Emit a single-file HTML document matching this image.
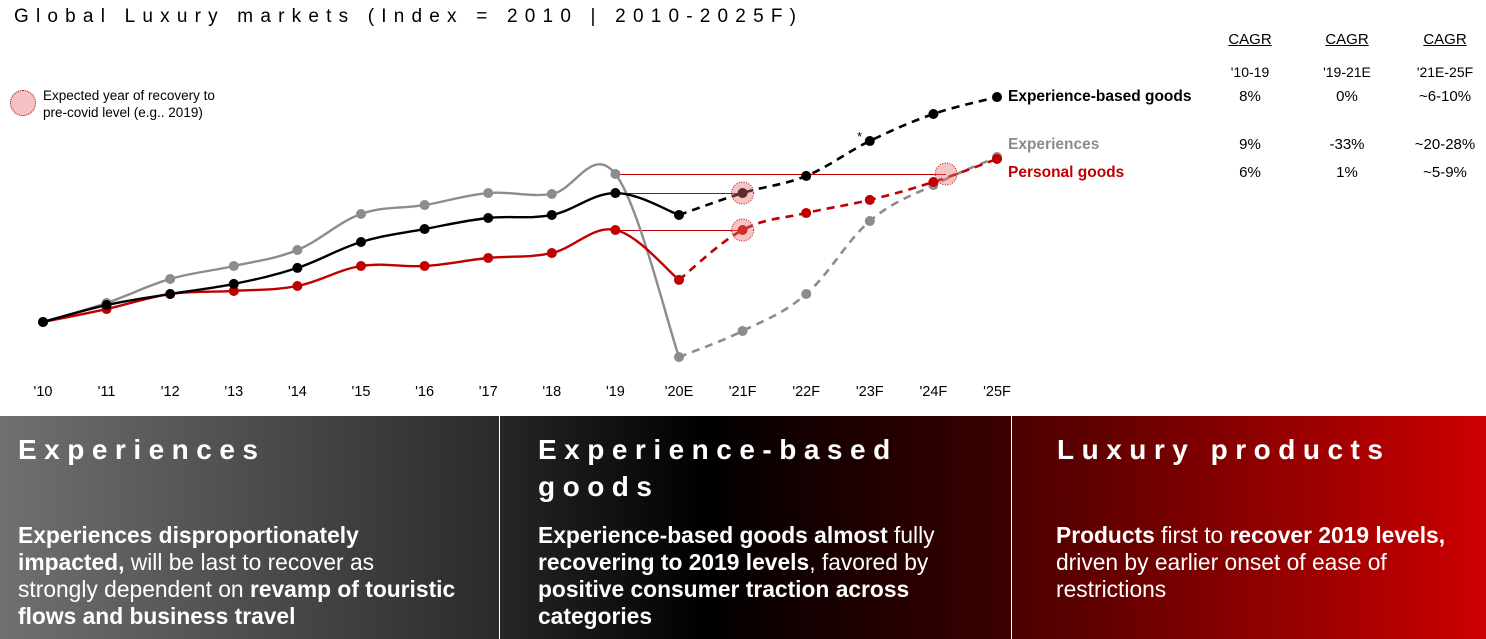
<!DOCTYPE html>
<html><head><meta charset="utf-8">
<style>
body{margin:0;width:1486px;height:639px;overflow:hidden;background:#fff;font-family:"Liberation Sans",Arial,sans-serif;position:relative}
.abs{position:absolute}
.title{left:14px;top:6px;font-size:19px;letter-spacing:7.2px;color:#000}
.th{font-size:15px;text-decoration:underline;text-align:center;width:70px}
.tp{font-size:14px;text-align:center;width:70px}
.tv{font-size:15px;text-align:center;width:90px}
.panel{top:416px;height:223px;color:#fff}
.ph{font-size:28px;font-weight:bold;letter-spacing:7.5px;line-height:37px;position:absolute;left:18px;top:15px}
.pt{font-size:22.8px;line-height:27px;position:absolute;left:18px;top:106px;white-space:nowrap}
</style></head><body>
<div class="abs title">Global Luxury markets (Index = 2010 | 2010-2025F)</div>

<div class="abs th" style="left:1215px;top:31px">CAGR</div>
<div class="abs th" style="left:1312px;top:31px">CAGR</div>
<div class="abs th" style="left:1410px;top:31px">CAGR</div>
<div class="abs tp" style="left:1215px;top:64px">'10-19</div>
<div class="abs tp" style="left:1312px;top:64px">'19-21E</div>
<div class="abs tp" style="left:1410px;top:64px">'21E-25F</div>

<div class="abs" style="left:1008px;top:88px;font-size:15.5px;font-weight:bold">Experience-based goods</div>
<div class="abs" style="left:1008px;top:136px;font-size:15.5px;font-weight:bold;color:#8c8c8c">Experiences</div>
<div class="abs" style="left:1008px;top:164px;font-size:15.5px;font-weight:bold;color:#c00000">Personal goods</div>

<div class="abs tv" style="left:1205px;top:88px">8%</div>
<div class="abs tv" style="left:1302px;top:88px">0%</div>
<div class="abs tv" style="left:1400px;top:88px">~6-10%</div>
<div class="abs tv" style="left:1205px;top:136px">9%</div>
<div class="abs tv" style="left:1302px;top:136px">-33%</div>
<div class="abs tv" style="left:1400px;top:136px">~20-28%</div>
<div class="abs tv" style="left:1205px;top:164px">6%</div>
<div class="abs tv" style="left:1302px;top:164px">1%</div>
<div class="abs tv" style="left:1400px;top:164px">~5-9%</div>

<div class="abs" style="left:10px;top:90px;width:26px;height:26px;border-radius:50%;background:rgba(230,120,120,0.45);border:1px dotted #c00000;box-sizing:border-box"></div>
<div class="abs" style="left:43px;top:87px;font-size:13.5px;line-height:17px">Expected year of recovery to<br>pre-covid level (e.g.. 2019)</div>

<svg id="chart" class="abs" style="left:0;top:0" width="1486" height="416"></svg>

<div class="abs panel" style="left:0;width:499px;background:linear-gradient(90deg,#707070,#2a2a2a)">
<div class="ph">Experiences</div>
<div class="pt"><b>Experiences disproportionately</b><br><b>impacted,</b> will be last to recover as<br>strongly dependent on <b>revamp of touristic</b><br><b>flows and business travel</b></div></div>
<div class="abs panel" style="left:500px;width:511px;background:linear-gradient(90deg,#262626,#000 40%,#3c0000)">
<div class="ph" style="left:38px">Experience-based goods</div>
<div class="pt" style="left:38px"><b>Experience-based goods almost</b> fully<br><b>recovering to 2019 levels</b>, favored by<br><b>positive consumer traction across</b><br><b>categories</b></div></div>
<div class="abs panel" style="left:1012px;width:474px;background:linear-gradient(90deg,#4a0000,#cc0000)">
<div class="ph" style="left:45px">Luxury products</div>
<div class="pt" style="left:44px"><b>Products</b> first to <b>recover 2019 levels,</b><br>driven by earlier onset of ease of<br>restrictions</div></div>

<script>
const years=["'10","'11","'12","'13","'14","'15","'16","'17","'18","'19","'20E","'21F","'22F","'23F","'24F","'25F"];
const ebg=[100,110.6,117.5,123.8,133.8,150,158.1,165,166.9,180.6,166.9,180.6,191.3,213.1,230,240.6];
const exper=[100,111.9,126.9,135,145,167.5,173.1,180.6,180,192.5,78.1,94.4,117.5,163.1,185.6,203.1];
const pers=[100,108.1,117.5,119.4,122.5,135,135,140,143.1,157.5,126.3,157.5,168.1,176.3,187.5,201.9];
const recovery=[{s:"exper",from:9,to:14.2},{s:"ebg",from:9,to:11},{s:"pers",from:9,to:11}];
const X=i=>43+i*63.6, Y=v=>322-(v-100)*1.6;
const svg=document.getElementById('chart'),NS="http://www.w3.org/2000/svg";
function mk(t,a){const e=document.createElementNS(NS,t);for(const k in a)e.setAttribute(k,a[k]);svg.appendChild(e);return e;}
function path(d,a,b){const p=[];for(let i=a;i<=b;i++)p.push([X(i),Y(d[i])]);
 let s=`M${p[0][0]},${p[0][1]}`;for(let i=0;i<p.length-1;i++){const p0=p[i-1]||p[i],p1=p[i],p2=p[i+1],p3=p[i+2]||p2,t=0.18;
 s+=` C${p1[0]+(p2[0]-p0[0])*t},${p1[1]+(p2[1]-p0[1])*t} ${p2[0]-(p3[0]-p1[0])*t},${p2[1]-(p3[1]-p1[1])*t} ${p2[0]},${p2[1]}`;}return s;}
const series={ebg:[ebg,'#000'],exper:[exper,'#8c8c8c'],pers:[pers,'#c00000']};
years.forEach((y,i)=>{const t=mk('text',{x:X(i),y:396,'text-anchor':'middle','font-size':14.5,'font-family':'Liberation Sans'});t.textContent=y;

});
recovery.forEach(r=>{const d=series[r.s][0];const yv=Math.round(Y(d[r.from]))+0.5;const l=mk('line',{x1:X(r.from),y1:yv,x2:X(r.to),y2:yv,stroke:'#c00000','stroke-width':1});

});
['exper','pers','ebg'].forEach(k=>{const [d,c]=series[k];
 const a=mk('path',{d:path(d,0,10),fill:'none',stroke:c,'stroke-width':2.4});
 
 
 const b=mk('path',{d:path(d,10,15),fill:'none',stroke:c,'stroke-width':2.6,'stroke-dasharray':'8,6'});
 
 
 d.forEach((v,i)=>{const m=mk('circle',{cx:X(i),cy:Y(v),r:5,fill:c});
 
 });});
recovery.forEach(r=>{const d=series[r.s][0];const c=mk('circle',{cx:X(r.to),cy:Y(d[r.from]),r:11,fill:'rgba(230,110,110,0.4)',stroke:'#c00000','stroke-dasharray':'1,1.5'});

});
const st=mk('text',{x:857,y:141,'font-size':13});st.textContent='*';


</script>
</body></html>
